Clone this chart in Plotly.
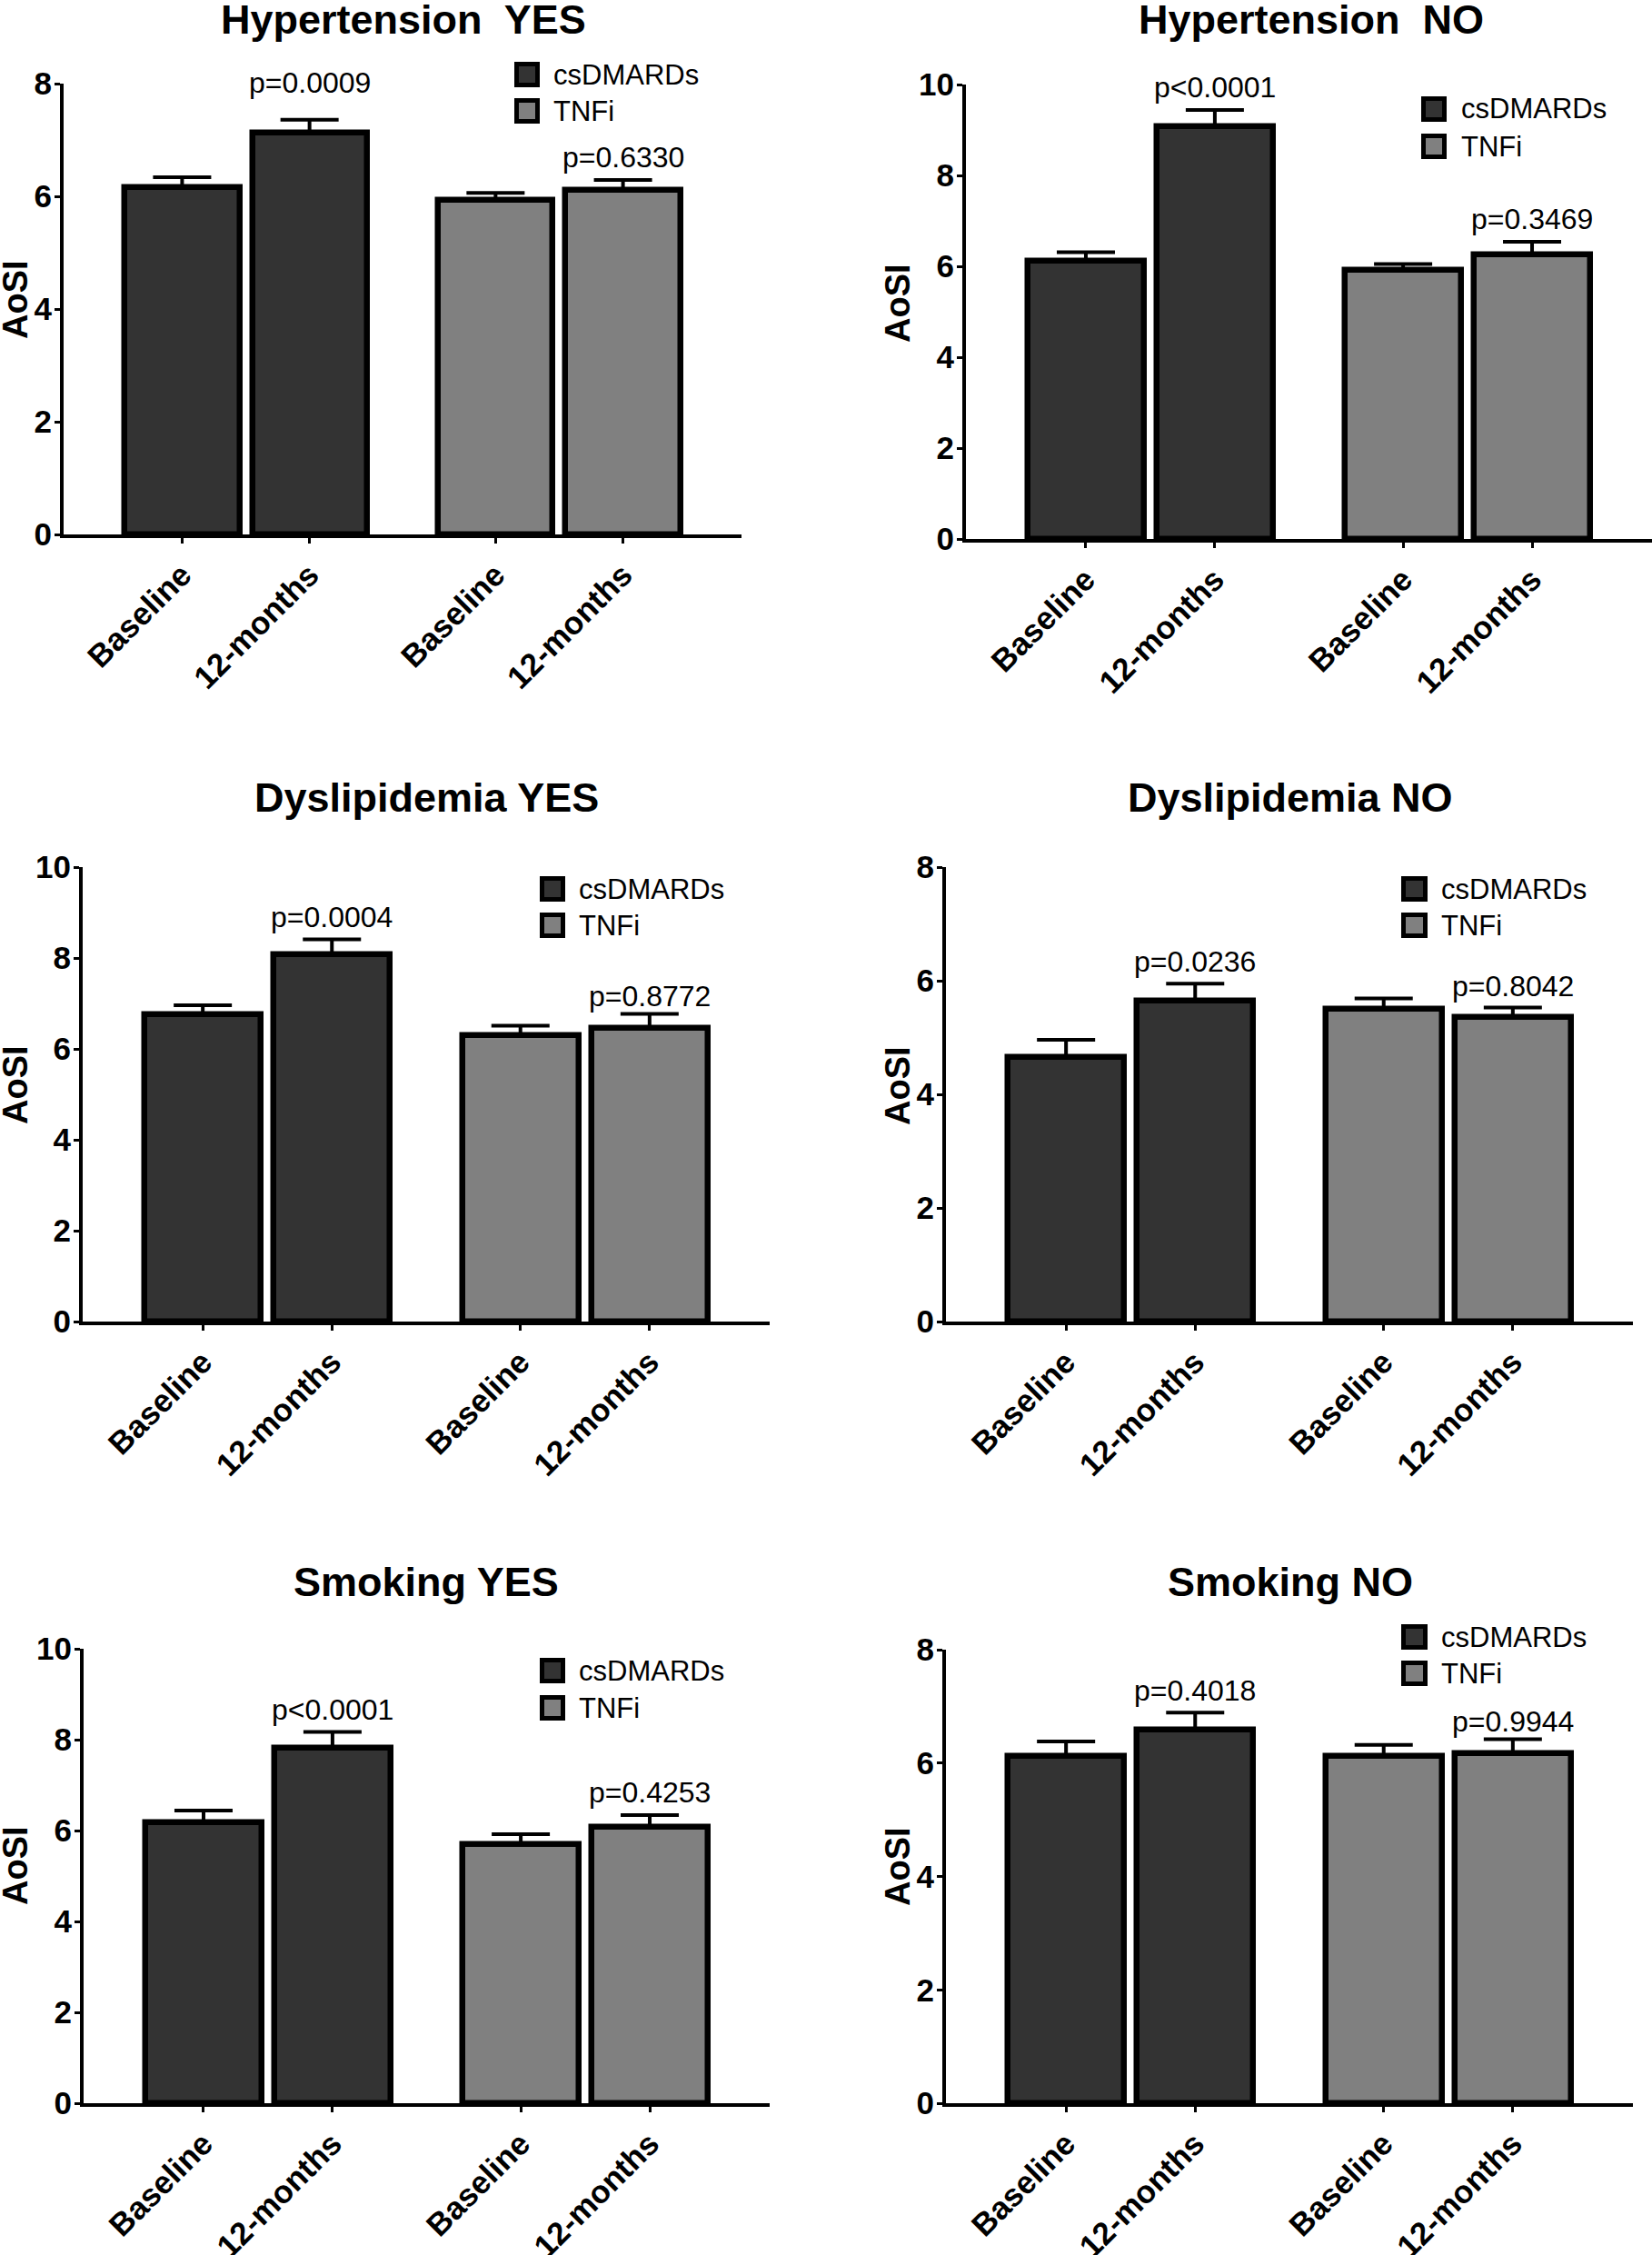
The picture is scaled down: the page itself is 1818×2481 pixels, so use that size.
import plotly.graph_objects as go

W, H = 1818, 2481

# ---------------- data ----------------
time_labels = ["Baseline", "12-months", "Baseline", "12-months"]
groups = ["csDMARDs", "TNFi"]
titles = ["Hypertension\u00a0 YES", "Hypertension\u00a0 NO",
          "Dyslipidemia YES", "Dyslipidemia NO",
          "Smoking YES", "Smoking NO"]
y_label = "AoSI"

# order: csDMARDs baseline, csDMARDs 12-months, TNFi baseline, TNFi 12-months
htn_yes_mean = [6.16, 7.13, 5.93, 6.11]
htn_yes_err = [0.18, 0.23, 0.13, 0.18]
htn_no_mean = [6.13, 9.09, 5.92, 6.26]
htn_no_err = [0.18, 0.35, 0.13, 0.28]
dys_yes_mean = [6.77, 8.09, 6.31, 6.46]
dys_yes_err = [0.19, 0.32, 0.20, 0.31]
dys_no_mean = [4.66, 5.65, 5.50, 5.36]
dys_no_err = [0.30, 0.30, 0.19, 0.17]
smk_yes_mean = [6.18, 7.83, 5.71, 6.08]
smk_yes_err = [0.26, 0.34, 0.21, 0.26]
smk_no_mean = [6.13, 6.59, 6.13, 6.17]
smk_no_err = [0.25, 0.30, 0.19, 0.25]

htn_yes_p = ["p=0.0009", "p=0.6330"]
htn_no_p = ["p<0.0001", "p=0.3469"]
dys_yes_p = ["p=0.0004", "p=0.8772"]
dys_no_p = ["p=0.0236", "p=0.8042"]
smk_yes_p = ["p<0.0001", "p=0.4253"]
smk_no_p = ["p=0.4018", "p=0.9944"]

y_max = [8, 10, 10, 8, 10, 8]

means = [htn_yes_mean, htn_no_mean, dys_yes_mean, dys_no_mean, smk_yes_mean, smk_no_mean]
errs = [htn_yes_err, htn_no_err, dys_yes_err, dys_no_err, smk_yes_err, smk_no_err]
pvals = [htn_yes_p, htn_no_p, dys_yes_p, dys_no_p, smk_yes_p, smk_no_p]

# ---------------- style / layout ----------------
FONT = "Arial, 'Liberation Sans', sans-serif"
bar_colors = ["#333333", "#808080"]
group_gap = 0.46
pos = [i + group_gap * (i // 2) for i in range(4)]
x_range = [-0.93, 4.39]

# panel geometry in pixels
panels = [
    dict(x0=70, x1=816, yb=588, yt=92, lb=(566, 594), lt=607, lr=(82, 122),
         tx=444, ty=22, ax=17, ay=330, ps=(21, 5)),
    dict(x0=1063, x1=1818, yb=593, yt=93, lb=(1564, 1592), lt=1606, lr=(120, 161),
         tx=1443, ty=22, ax=988, ay=333, ps=(5, 5)),
    dict(x0=91, x1=847, yb=1454, yt=954, lb=(594, 622), lt=635, lr=(978, 1018),
         tx=469, ty=878, ax=17, ay=1194, ps=(5, 0)),
    dict(x0=1041, x1=1797, yb=1454, yt=954, lb=(1542, 1571), lt=1584, lr=(978, 1018),
         tx=1420, ty=878, ax=988, ay=1194, ps=(4, 3)),
    dict(x0=92, x1=847, yb=2314, yt=1814, lb=(594, 622), lt=635, lr=(1838, 1879),
         tx=469, ty=1740, ax=17, ay=2053, ps=(5, 5)),
    dict(x0=1041, x1=1797, yb=2314, yt=1815, lb=(1542, 1571), lt=1584, lr=(1801, 1841),
         tx=1420, ty=1740, ax=988, ay=2053, ps=(4, 0)),
]

def px_x(v):
    return v / W

def px_y(v):
    return 1 - v / H

fig = go.Figure()
layout = dict(
    width=W, height=H, autosize=False,
    margin=dict(l=0, r=0, t=0, b=0, pad=0),
    paper_bgcolor="white", plot_bgcolor="white",
    showlegend=False,
    font=dict(family=FONT, color="black"),
)
annotations = []
shapes = []

for k, p in enumerate(panels):
    n = k + 1
    xa = "x" if n == 1 else f"x{n}"
    ya = "y" if n == 1 else f"y{n}"
    for g in range(2):
        fig.add_trace(go.Bar(
            x=pos[2 * g:2 * g + 2],
            y=means[k][2 * g:2 * g + 2],
            width=0.9,
            name=groups[g],
            marker=dict(color=bar_colors[g], line=dict(color="black", width=6.5)),
            error_y=dict(type="data", symmetric=False,
                         array=errs[k][2 * g:2 * g + 2], arrayminus=[0, 0],
                         color="black", thickness=4, width=32),
            xaxis=xa, yaxis=ya, showlegend=False,
        ))
    layout["xaxis" if n == 1 else f"xaxis{n}"] = dict(
        domain=[px_x(p["x0"]), px_x(p["x1"])], range=x_range, anchor=ya,
        tickmode="array", tickvals=pos, ticktext=time_labels, tickangle=-45,
        showline=True, linewidth=4, linecolor="black",
        ticks="outside", ticklen=6, tickwidth=3, tickcolor="black",
        tickfont=dict(family=FONT, size=35, weight="bold", color="black"),
        showgrid=False, zeroline=False, fixedrange=True, automargin=False,
    )
    layout["yaxis" if n == 1 else f"yaxis{n}"] = dict(
        domain=[px_y(p["yb"]), px_y(p["yt"])], range=[0, y_max[k]], anchor=xa,
        dtick=2, tick0=0,
        showline=True, linewidth=4, linecolor="black",
        ticks="outside", ticklen=6, tickwidth=3, tickcolor="black",
        ticklabelstandoff=-4,
        tickfont=dict(family=FONT, size=35, weight="bold", color="black"),
        showgrid=False, zeroline=False, fixedrange=True, automargin=False,
    )
    # title
    annotations.append(dict(
        text=titles[k], xref="paper", yref="paper",
        x=px_x(p["tx"]), y=px_y(p["ty"]), xanchor="center", yanchor="middle",
        showarrow=False, font=dict(family=FONT, size=45, weight="bold", color="black"),
    ))
    # y-axis title
    annotations.append(dict(
        text=y_label, xref="paper", yref="paper", textangle=-90,
        x=px_x(p["ax"]), y=px_y(p["ay"]), xanchor="center", yanchor="middle",
        showarrow=False, font=dict(family=FONT, size=38, weight="bold", color="black"),
    ))
    # p-values above 12-month bars
    for j in range(2):
        idx = 2 * j + 1
        annotations.append(dict(
            text=pvals[k][j], xref=xa, yref=ya,
            x=pos[idx], y=means[k][idx] + errs[k][idx],
            xanchor="center", yanchor="bottom", yshift=p["ps"][j],
            showarrow=False, font=dict(family=FONT, size=32, color="black"),
        ))
    # legend
    for g in range(2):
        ry = p["lr"][g]
        bx0, bx1 = p["lb"]
        shapes.append(dict(
            type="rect", xref="paper", yref="paper",
            x0=px_x(bx0 + 2.5), x1=px_x(bx1 - 2.5),
            y0=px_y(ry + 11.5), y1=px_y(ry - 11.5),
            fillcolor=bar_colors[g], line=dict(color="black", width=5),
        ))
        annotations.append(dict(
            text=groups[g], xref="paper", yref="paper",
            x=px_x(p["lt"]), y=px_y(ry), xanchor="left", yanchor="middle",
            showarrow=False, font=dict(family=FONT, size=31, color="black"),
        ))

layout["annotations"] = annotations
layout["shapes"] = shapes
layout["bargap"] = 0
fig.update_layout(**layout)

fig.write_html("out.html",
               config={"displayModeBar": False},
               post_script="document.body.style.margin='0';document.body.style.overflow='hidden';")
